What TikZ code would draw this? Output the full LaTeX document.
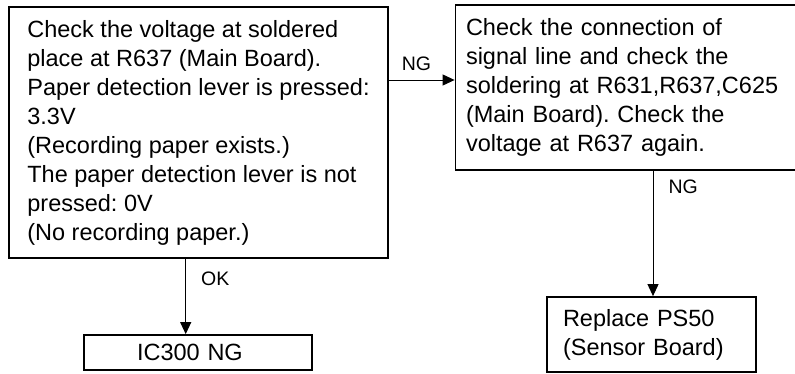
\documentclass[tikz,border=0pt]{standalone}
\usepackage{fontspec}
\setmainfont{Liberation Sans}
\frenchspacing
\usetikzlibrary{arrows.meta}
\tikzset{
  box/.style = {rectangle, draw, line width=1.8pt, align=left, inner ysep=0pt, font=\fontsize{23.5}{29}\selectfont},
  arr/.style = {line width=1pt, -{Triangle[length=12pt,width=11pt]}},
  lbl/.style = {inner sep=3pt, font=\fontsize{19.5}{23}\selectfont}
}
\begin{document}
\begin{tikzpicture}[x=1pt, y=-1pt]

  \useasboundingbox (0,0) rectangle (795,373);

  % boxes
  \node[box, minimum width=379pt, minimum height=251pt] (chk) at (198.5,132.5)
    {Check the voltage at soldered\\ place at R637 (Main Board).\\ Paper detection lever is pressed:\\ 3.3V\\ (Recording paper exists.)\\ The paper detection lever is not\\ pressed: 0V\\ (No recording paper.)};
  \node[box, text width=330pt, inner xsep=10.5pt, minimum height=165pt] (conn) at (631,87.5)
    {Check the connection of\\ signal line and check the\\ soldering at R631,R637,C625\\ (Main Board). Check the\\ voltage at R637 again.};
  \node[box, text width=122pt, inner xsep=53pt, minimum height=35pt] (ic) at (198,352.5) {IC300 NG};
  \node[box, text width=177pt, inner xsep=16pt, minimum height=75pt] (ps) at (651.5,334.5)
    {Replace PS50\\ (Sensor Board)};

  % arrows
  \coordinate (ngy) at (0,80);
  \coordinate (okx) at (185.7,0);
  \coordinate (ngx) at (653,0);
  \draw[arr] (chk.east |- ngy) -- (conn.west |- ngy) node[lbl, pos=0.42, above=6pt] (ng1) {NG};
  \draw[arr] (chk.south -| okx) -- (ic.north -| okx) node[lbl, pos=0.27, right=12pt] (ok) {OK};
  \draw[arr] (conn.south -| ngx) -- (ps.north -| ngx) node[lbl, pos=0.13, right=12pt] (ng2) {NG};

\end{tikzpicture}
\end{document}
